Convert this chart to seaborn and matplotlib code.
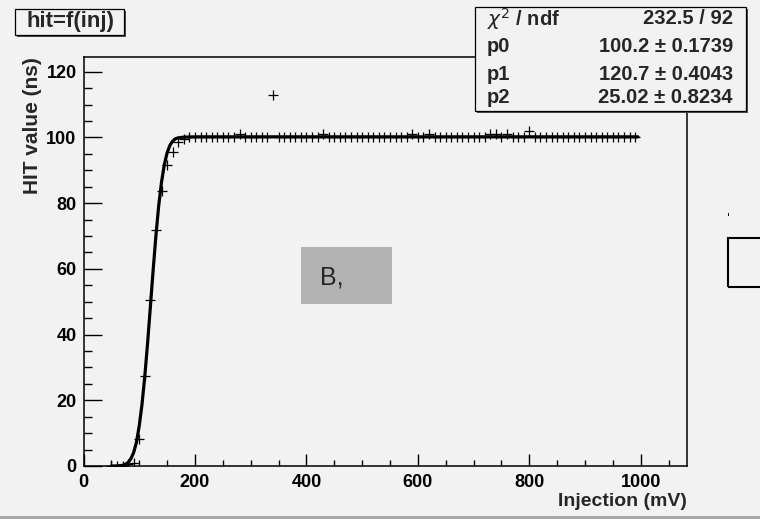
import matplotlib
matplotlib.use('Agg')
import numpy as np
import pandas as pd
import seaborn as sns
from matplotlib import pyplot as plt
from matplotlib.patches import Rectangle

# measured points (injection in mV, hit value in ns)
injection = [50, 60, 70, 80, 90, 100, 110, 120, 130, 140, 150, 160, 170, 180, 190,
             200, 210, 220, 230, 240, 250, 260, 270, 280, 290, 300, 310, 320, 330, 340,
             350, 360, 370, 380, 390, 400, 410, 420, 430, 440, 450, 460, 470, 480, 490,
             500, 510, 520, 530, 540, 550, 560, 570, 580, 590, 600, 610, 620, 630, 640,
             650, 660, 670, 680, 690, 700, 710, 720, 730, 740, 750, 760, 770, 780, 790,
             800, 810, 820, 830, 840, 850, 860, 870, 880, 890, 900, 910, 920, 930, 940,
             950, 960, 970, 980, 990]
hit = [0, 0, 0, 0.5, 1, 8.3, 27.4, 50.6, 71.9, 83.8, 91.7, 95.5, 98.5, 99.5, 100,
       100, 100, 100, 100, 100, 100, 100, 100, 101, 100, 100, 100, 100, 100, 113,
       100, 100, 100, 100, 100, 100, 100, 100, 101, 100, 100, 100, 100, 100, 100,
       100, 100, 100, 100, 100, 100, 100, 100, 100, 101, 100, 100, 101, 100, 100,
       100, 100, 100, 100, 100, 100, 100, 100, 101, 101, 100, 101, 100, 100, 100,
       102, 100, 100, 100, 100, 100, 100, 100, 100, 100, 100, 100, 100, 100, 100,
       100, 100, 100, 100, 100]

# fit curve
fit_x = [50, 60, 70, 75, 80, 85, 90, 95, 100, 105, 110, 115, 120, 125, 130, 135,
         140, 145, 150, 155, 160, 165, 170, 180, 200, 995]
fit_y = [0, 0.03, 0.2, 0.5, 1.05, 2.2, 4.1, 7.2, 12.2, 18.8, 27.3, 37.4, 48.5, 59.7,
         70.2, 79.3, 86.4, 91.7, 95.3, 97.6, 98.9, 99.6, 99.9, 100.1, 100.2, 100.2]

stats_names = ['p0', 'p1', 'p2']
stats_values = ['100.2 \u00b1 0.1739', '120.7 \u00b1 0.4043', '25.02 \u00b1 0.8234']
chi2_text = '232.5 / 92'

W, H = 760, 519
BG = '#f2f2f2'

sns.set_theme(style='ticks')
plt.rcParams['font.family'] = ['Liberation Sans', 'DejaVu Sans']
plt.rcParams['mathtext.fontset'] = 'dejavusans'

fig = plt.figure(figsize=(W / 100, H / 100), dpi=100)
fig.patch.set_facecolor(BG)


def fx(px):
    return px / W


def fy(py):
    return 1 - py / H


ax = fig.add_axes([fx(83.5), fy(466), fx(687) - fx(83.5), fy(57) - fy(466)])
ax.set_facecolor(BG)

points = pd.DataFrame({'inj': injection, 'hit': hit})
curve = pd.DataFrame({'inj': fit_x, 'hit': fit_y})

sns.lineplot(data=curve, x='inj', y='hit', ax=ax, color='black', linewidth=2.3,
             sort=False, estimator=None, zorder=3)
sns.scatterplot(data=points, x='inj', y='hit', ax=ax, marker='+', color='black',
                s=60, linewidth=0.9, zorder=4)

ax.set_xlim(0, 1083)
ax.set_ylim(0, 124.5)
ax.set_xticks([0, 200, 400, 600, 800, 1000])
ax.set_xticks(np.arange(50, 1083, 50), minor=True)
ax.set_yticks([0, 20, 40, 60, 80, 100, 120])
ax.set_yticks(np.arange(5, 124, 5), minor=True)

ax.tick_params(axis='both', which='both', direction='in', colors='black',
               labelsize=13, width=1)
ax.tick_params(axis='x', which='major', length=8.5, pad=6)
ax.tick_params(axis='x', which='minor', length=4.3)
ax.tick_params(axis='y', which='major', length=13, pad=5)
ax.tick_params(axis='y', which='minor', length=5.8)
for lab in ax.get_xticklabels() + ax.get_yticklabels():
    lab.set_fontweight('bold')

for sp in ax.spines.values():
    sp.set_visible(True)
    sp.set_color('black')
    sp.set_linewidth(1.1)

ax.set_xlabel('Injection (mV)', fontsize=14, fontweight='bold', loc='right', labelpad=1)
ax.set_ylabel('HIT value (ns)', fontsize=15, fontweight='bold', loc='top', labelpad=3)
ax.grid(False)


def shadow_box(x0, y0, x1, y1):
    fig.add_artist(Rectangle((fx(x0 + 2), fy(y1 + 2)), fx(x1) - fx(x0), fy(y0) - fy(y1),
                             transform=fig.transFigure, facecolor='#505050',
                             edgecolor='none', zorder=5))
    fig.add_artist(Rectangle((fx(x0), fy(y1)), fx(x1) - fx(x0), fy(y0) - fy(y1),
                             transform=fig.transFigure, facecolor=BG,
                             edgecolor='black', linewidth=0.9, zorder=6))


# title box
shadow_box(15, 9, 124, 35)
fig.text(fx(70), fy(22), 'hit=f(inj)', fontsize=16, fontweight='bold',
         ha='center', va='center', zorder=7)

# stats box
shadow_box(475, 7, 746, 111)
fig.text(fx(487), fy(19), r'$\chi^{2}$ / ndf', fontsize=14.5, fontweight='bold',
         ha='left', va='center', zorder=7)
fig.text(fx(733), fy(19), chi2_text, fontsize=14.5, fontweight='bold',
         ha='right', va='center', zorder=7)
for i, (name, val) in enumerate(zip(stats_names, stats_values)):
    yy = [47, 74, 98][i]
    fig.text(fx(487), fy(yy), name, fontsize=14.5, fontweight='bold',
             ha='left', va='center', zorder=7)
    fig.text(fx(733), fy(yy), val, fontsize=14.5, fontweight='bold',
             ha='right', va='center', zorder=7)

# gray label patch
fig.add_artist(Rectangle((fx(301), fy(304)), fx(392) - fx(301), fy(247) - fy(304),
                         transform=fig.transFigure, facecolor='#b2b2b2',
                         edgecolor='none', zorder=5))
fig.text(fx(320), fy(278), 'B,', fontsize=18, ha='left', va='center', zorder=7)

# empty box on the right and small dot
fig.add_artist(Rectangle((fx(728), fy(287)), fx(40), fy(238) - fy(287),
                         transform=fig.transFigure, facecolor='none',
                         edgecolor='black', linewidth=1.5, zorder=5))
fig.add_artist(Rectangle((fx(728), fy(216)), fx(1.2), fy(213) - fy(216),
                         transform=fig.transFigure, facecolor='black',
                         edgecolor='none', zorder=5))

# bottom border band
fig.add_artist(Rectangle((0, 0), 1, fy(516), transform=fig.transFigure,
                         facecolor='#a8a8a8', edgecolor='none', zorder=5))

fig.savefig('out.png', dpi=100, facecolor=fig.get_facecolor())
